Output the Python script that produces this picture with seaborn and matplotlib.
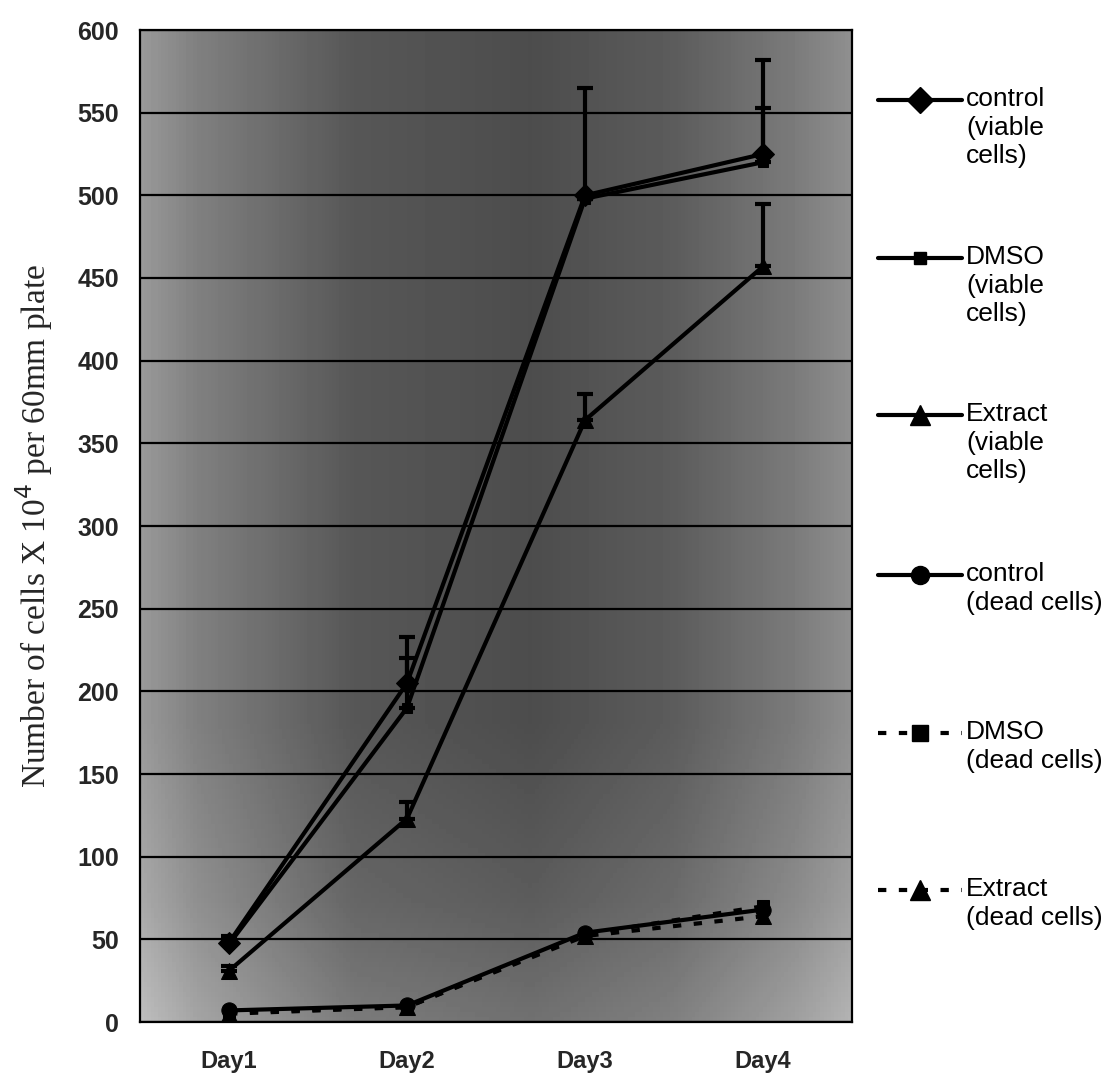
import numpy as np
import pandas as pd
import matplotlib.pyplot as plt
import seaborn as sns
from matplotlib.lines import Line2D

# ---- data ----
days = ["Day1", "Day2", "Day3", "Day4"]
labels = [
    "control\n(viable\ncells)",
    "DMSO\n(viable\ncells)",
    "Extract\n(viable\ncells)",
    "control\n(dead cells)",
    "DMSO\n(dead cells)",
    "Extract\n(dead cells)",
]
control_viable = [48, 205, 500, 525]
dmso_viable = [47, 190, 498, 520]
extract_viable = [31, 123, 364, 457]
control_dead = [7, 10, 54, 68]
dmso_dead = [6, 9, 53, 70]
extract_dead = [5, 9, 52, 64]

# upper error bars only (Excel "plus" style)
control_viable_err = [4, 28, 65, 57]
dmso_viable_err = [3, 30, 0, 33]
extract_viable_err = [3, 10, 16, 38]

y_ticks = list(range(0, 601, 50))

sns.set_theme(style="white")
plt.rcParams["font.family"] = ["Liberation Sans", "DejaVu Sans"]

fig = plt.figure(figsize=(11.04, 10.76), dpi=100)
ax = fig.add_axes([140 / 1104, 54 / 1076, 712 / 1104, 992 / 1076])

# scanned grey background of the plot area
gx = np.linspace(0, 1, 200)
gy = np.linspace(0, 1, 200)
col = np.interp(gx, [0, 0.08, 0.3, 0.55, 0.75, 0.92, 1.0], [0.6, 0.5, 0.34, 0.3, 0.36, 0.48, 0.56])
row = np.interp(gy, [0, 0.12, 0.3, 1.0], [0.14, 0.06, 0.0, 0.0])
bg = np.clip(col[None, :] + row[:, None], 0, 1)
ax.imshow(bg, cmap="gray", vmin=0, vmax=1, extent=(0, 1, 0, 1), origin="lower",
          transform=ax.transAxes, aspect="auto", zorder=0)

series = [
    (control_viable, "D", 11, "-"),
    (dmso_viable, "s", 7, "-"),
    (extract_viable, "^", 12, "-"),
    (control_dead, "o", 11, "-"),
    (dmso_dead, "s", 9, (0, (2, 3))),
    (extract_dead, "^", 12, (0, (2, 3))),
]

for (vals, mk, ms, ls), lab in zip(series, labels):
    df = pd.DataFrame({"day": days, "value": vals})
    sns.lineplot(data=df, x="day", y="value", ax=ax, color="black", linewidth=3,
                 marker=mk, markersize=ms, markeredgecolor="black", linestyle=ls,
                 legend=False, zorder=4, sort=False)

xpos = np.arange(len(days))
for vals, err in [(control_viable, control_viable_err),
                  (dmso_viable, dmso_viable_err),
                  (extract_viable, extract_viable_err)]:
    ax.errorbar(xpos, vals, yerr=[np.zeros(len(err)), err], fmt="none",
                ecolor="black", elinewidth=3, capsize=6, capthick=3, zorder=3)

ax.set_xlim(-0.5, 3.5)
ax.set_ylim(0, 600)
ax.set_yticks(y_ticks)
ax.set_yticklabels([str(v) for v in y_ticks], fontsize=18, fontweight="bold")
ax.set_xticks(xpos)
ax.set_xticklabels(days, fontsize=17, fontweight="bold")
ax.set_xticks(np.arange(-0.5, 4, 1), minor=True)
ax.tick_params(axis="x", which="major", length=0, pad=20)
ax.tick_params(axis="x", which="minor", length=8, width=1.2, color="black", direction="out")
ax.tick_params(axis="y", length=7, width=1.2, color="black", direction="out", pad=8)
ax.yaxis.grid(True, color="black", linewidth=1.6)
ax.set_axisbelow(False)
for sp in ax.spines.values():
    sp.set_color("black")
    sp.set_linewidth(1.6)

ax.set_xlabel("")
ax.set_ylabel(r"Number of cells X 10$^4$ per 60mm plate", fontsize=24,
              family="Liberation Serif", labelpad=16)

# legend drawn outside the plot, handle aligned with the first text line
W, H = 1104, 1076
entry_y = [100, 258, 415, 575, 733, 890]
for (vals, mk, ms, ls), lab, yy in zip(series, labels, entry_y):
    fy = 1 - yy / H
    fig.add_artist(Line2D([878 / W, 962 / W], [fy, fy], color="black", linewidth=3,
                          linestyle=ls, transform=fig.transFigure))
    fig.add_artist(Line2D([920 / W], [fy], color="black", marker=mk, markersize=ms + 2,
                          markeredgecolor="black", transform=fig.transFigure))
    fig.text(966 / W, fy + 13 / H, lab, fontsize=19, va="top", ha="left",
             linespacing=1.25, color="black")

fig.savefig("out.png", dpi=100, facecolor="white")
